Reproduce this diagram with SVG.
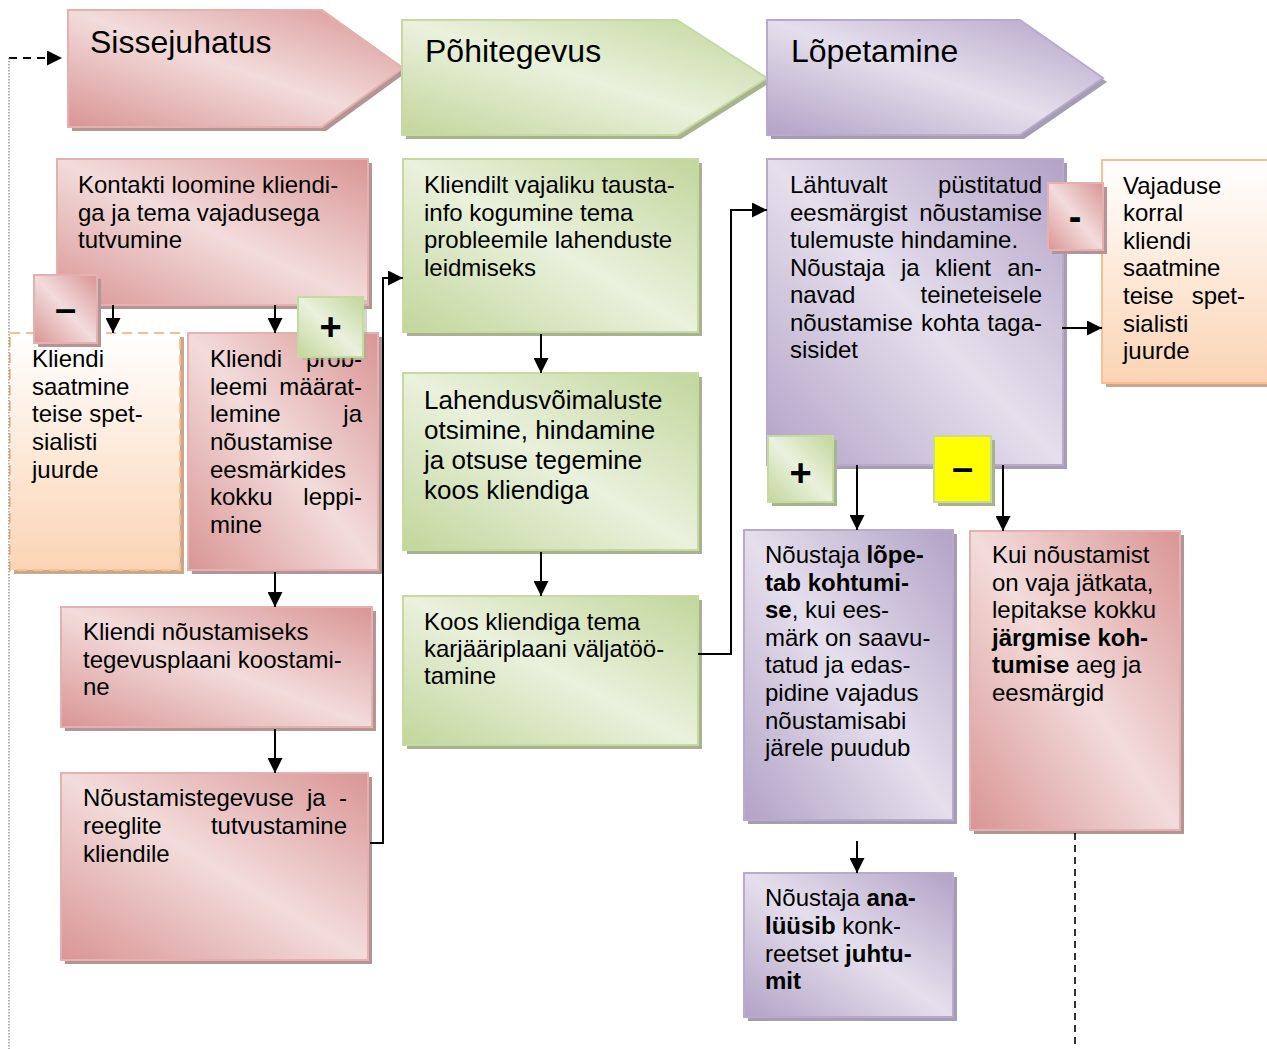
<svg xmlns="http://www.w3.org/2000/svg" width="1267" height="1049" viewBox="0 0 1267 1049">
<style>
.t{font-family:"Liberation Sans",Arial,sans-serif;font-size:24px;fill:#000}
.h{font-size:32px}
.big{font-size:26px}
.b{font-weight:bold}
.e{text-anchor:end}
.bd{font-family:"Liberation Sans",Arial,sans-serif;font-size:38px;font-weight:bold;text-anchor:middle;fill:#000}
.conn{stroke:#000;stroke-width:2;fill:none}
.red{fill:url(#gRed);stroke:#e3b1b0;stroke-width:2}
.grn{fill:url(#gGrn);stroke:#c7d9a3;stroke-width:2}
.pur{fill:url(#gPur);stroke:#b9aacd;stroke-width:2}
.org{fill:url(#gOrg);stroke:#fabf8f;stroke-width:2}
.sr{fill:#b39596}
.sg{fill:#a8b28e}
.sp{fill:#a59db1}
.so{fill:#c9a78c}
</style>
<defs>
<linearGradient id="gRed" x1="0" y1="1" x2="1" y2="0"><stop offset="0" stop-color="#d99594"/><stop offset="0.5" stop-color="#f2dcdb"/><stop offset="1" stop-color="#d99594"/></linearGradient>
<linearGradient id="gGrn" x1="0" y1="1" x2="1" y2="0"><stop offset="0" stop-color="#c2d69b"/><stop offset="0.5" stop-color="#eaf1dd"/><stop offset="1" stop-color="#c2d69b"/></linearGradient>
<linearGradient id="gPur" x1="0" y1="1" x2="1" y2="0"><stop offset="0" stop-color="#b2a2c7"/><stop offset="0.5" stop-color="#e5dfec"/><stop offset="1" stop-color="#b2a2c7"/></linearGradient>
<linearGradient id="gOrg" x1="0" y1="0" x2="0" y2="1"><stop offset="0" stop-color="#ffffff"/><stop offset="1" stop-color="#fbd4b4"/></linearGradient>
<marker id="ah" viewBox="0 0 14 14" refX="14" refY="7" markerWidth="15" markerHeight="15" orient="auto" markerUnits="userSpaceOnUse"><path d="M0,0 L14,7 L0,14 z" fill="#000"/></marker>
</defs>

<g id="hdr-sissejuhatus">
<polygon class="sr" points="72,14 326,14 407,72 326,131 72,131"/>
<polygon class="red" points="68,10 322,10 403,68 322,127 68,127"/>
<text class="t h" x="90" y="53">Sissejuhatus</text>
</g>
<g id="hdr-pohitegevus">
<polygon class="sg" points="406,24 681,24 771,82 681,139 406,139"/>
<polygon class="grn" points="402,20 677,20 767,78 677,135 402,135"/>
<text class="t h" x="425" y="62">Põhitegevus</text>
</g>
<g id="hdr-lopetamine">
<polygon class="sp" points="771,24 1024,24 1107,82 1024,139 771,139"/>
<polygon class="pur" points="767,20 1020,20 1103,78 1020,135 767,135"/>
<text class="t h" x="791" y="62">Lõpetamine</text>
</g>

<g id="n-kontakti">
<rect class="sr" x="61" y="163" width="311" height="146"/>
<rect class="red" x="57" y="159" width="311" height="146"/>
<text class="t" x="78" y="193">Kontakti loomine kliendi-</text>
<text class="t" x="78" y="221">ga ja tema vajadusega</text>
<text class="t" x="78" y="248">tutvumine</text>
</g>

<g id="n-saatmine-l">
<rect class="so" x="14" y="337" width="170" height="237"/>
<rect class="org" x="10" y="333" width="170" height="237" stroke-dasharray="10 6"/>
<text class="t" x="32" y="367">Kliendi</text>
<text class="t" x="32" y="395">saatmine</text>
<text class="t" x="32" y="422">teise spet-</text>
<text class="t" x="32" y="450">sialisti</text>
<text class="t" x="32" y="478">juurde</text>
</g>

<g id="n-probleem">
<rect class="sr" x="192" y="337" width="190" height="237"/>
<rect class="red" x="188" y="333" width="190" height="237"/>
<text class="t" x="210" y="367">Kliendi</text><text class="t e" x="362" y="367">prob-</text>
<text class="t" x="210" y="395">leemi</text><text class="t e" x="362" y="395">määrat-</text>
<text class="t" x="210" y="422">lemine</text><text class="t e" x="362" y="422">ja</text>
<text class="t" x="210" y="450">nõustamise</text>
<text class="t" x="210" y="478">eesmärkides</text>
<text class="t" x="210" y="505">kokku</text><text class="t e" x="362" y="505">leppi-</text>
<text class="t" x="210" y="533">mine</text>
</g>

<g id="n-tegevusplaan">
<rect class="sr" x="65" y="611" width="311" height="120"/>
<rect class="red" x="61" y="607" width="311" height="120"/>
<text class="t" x="83" y="640">Kliendi nõustamiseks</text>
<text class="t" x="83" y="668">tegevusplaani koostami-</text>
<text class="t" x="83" y="695">ne</text>
</g>

<g id="n-reeglid">
<rect class="sr" x="65" y="777" width="307" height="187"/>
<rect class="red" x="61" y="773" width="307" height="187"/>
<text class="t" x="83" y="806">Nõustamistegevuse</text><text class="t" x="307" y="806">ja</text><text class="t e" x="347" y="806">-</text>
<text class="t" x="83" y="834">reeglite</text><text class="t e" x="347" y="834">tutvustamine</text>
<text class="t" x="83" y="862">kliendile</text>
</g>

<g id="n-taustainfo">
<rect class="sg" x="407" y="163" width="295" height="173"/>
<rect class="grn" x="403" y="159" width="295" height="173"/>
<text class="t" x="424" y="193">Kliendilt vajaliku tausta-</text>
<text class="t" x="424" y="221">info kogumine tema</text>
<text class="t" x="424" y="248">probleemile lahenduste</text>
<text class="t" x="424" y="276">leidmiseks</text>
</g>

<g id="n-lahendus">
<rect class="sg" x="407" y="377" width="295" height="177"/>
<rect class="grn" x="403" y="373" width="295" height="177"/>
<text class="t big" x="424" y="409">Lahendusvõimaluste</text>
<text class="t big" x="424" y="439">otsimine, hindamine</text>
<text class="t big" x="424" y="469">ja otsuse tegemine</text>
<text class="t big" x="424" y="499">koos kliendiga</text>
</g>

<g id="n-karjaar">
<rect class="sg" x="407" y="600" width="295" height="149"/>
<rect class="grn" x="403" y="596" width="295" height="149"/>
<text class="t" x="424" y="630">Koos kliendiga tema</text>
<text class="t" x="424" y="657">karjääriplaani väljatöö-</text>
<text class="t" x="424" y="684">tamine</text>
</g>

<g id="n-hindamine">
<rect class="sp" x="771" y="163" width="296" height="306"/>
<rect class="pur" x="767" y="159" width="296" height="306"/>
<text class="t" x="790" y="193">Lähtuvalt</text><text class="t e" x="1042" y="193">püstitatud</text>
<text class="t" x="790" y="221">eesmärgist</text><text class="t e" x="1042" y="221">nõustamise</text>
<text class="t" x="790" y="248">tulemuste hindamine.</text>
<text class="t" x="790" y="276">Nõustaja</text><text class="t" x="901" y="276">ja</text><text class="t" x="935" y="276">klient</text><text class="t e" x="1042" y="276">an-</text>
<text class="t" x="790" y="303">navad</text><text class="t e" x="1042" y="303">teineteisele</text>
<text class="t" x="790" y="331">nõustamise</text><text class="t" x="921" y="331">kohta</text><text class="t e" x="1042" y="331">taga-</text>
<text class="t" x="790" y="358">sisidet</text>
</g>

<g id="n-saatmine-r">
<rect class="so" x="1106" y="164" width="175" height="223"/>
<rect class="org" x="1102" y="160" width="175" height="223"/>
<text class="t" x="1123" y="194">Vajaduse</text>
<text class="t" x="1123" y="221">korral</text>
<text class="t" x="1123" y="249">kliendi</text>
<text class="t" x="1123" y="276">saatmine</text>
<text class="t" x="1123" y="304">teise</text><text class="t e" x="1245" y="304">spet-</text>
<text class="t" x="1123" y="332">sialisti</text>
<text class="t" x="1123" y="359">juurde</text>
</g>

<g id="n-lopetab">
<rect class="sp" x="748" y="534" width="209" height="290"/>
<rect class="pur" x="744" y="530" width="209" height="290"/>
<text class="t" x="765" y="563">Nõustaja <tspan class="b">lõpe-</tspan></text>
<text class="t b" x="765" y="591">tab kohtumi-</text>
<text class="t" x="765" y="618"><tspan class="b">se</tspan>, kui ees-</text>
<text class="t" x="765" y="646">märk on saavu-</text>
<text class="t" x="765" y="673">tatud ja edas-</text>
<text class="t" x="765" y="701">pidine vajadus</text>
<text class="t" x="765" y="729">nõustamisabi</text>
<text class="t" x="765" y="756">järele puudub</text>
</g>

<g id="n-jatkamine">
<rect class="sr" x="974" y="535" width="210" height="299"/>
<rect class="red" x="970" y="531" width="210" height="299"/>
<text class="t" x="992" y="563">Kui nõustamist</text>
<text class="t" x="992" y="591">on vaja jätkata,</text>
<text class="t" x="992" y="618">lepitakse kokku</text>
<text class="t b" x="992" y="646">järgmise koh-</text>
<text class="t" x="992" y="673"><tspan class="b">tumise</tspan> aeg ja</text>
<text class="t" x="992" y="701">eesmärgid</text>
</g>

<g id="n-analuus">
<rect class="sp" x="748" y="877" width="209" height="144"/>
<rect class="pur" x="744" y="873" width="209" height="144"/>
<text class="t" x="765" y="906">Nõustaja <tspan class="b">ana-</tspan></text>
<text class="t" x="765" y="934"><tspan class="b">lüüsib</tspan> konk-</text>
<text class="t" x="765" y="962">reetset <tspan class="b">juhtu-</tspan></text>
<text class="t b" x="765" y="989">mit</text>
</g>

<g id="connectors">
<path class="conn" d="M9,58 H62" stroke-dasharray="8 6" marker-end="url(#ah)"/>
<path d="M9,58 V1049" stroke="#7f7f7f" stroke-width="1.2" stroke-dasharray="1.5 1.5" fill="none"/>
<path class="conn" d="M113,305 V333" marker-end="url(#ah)"/>
<path class="conn" d="M275,305 V333" marker-end="url(#ah)"/>
<path class="conn" d="M275,572 V607" marker-end="url(#ah)"/>
<path class="conn" d="M275,729 V773" marker-end="url(#ah)"/>
<path class="conn" d="M370,843 H383 V278 H403" marker-end="url(#ah)"/>
<path class="conn" d="M541,334 V373" marker-end="url(#ah)"/>
<path class="conn" d="M541,552 V596" marker-end="url(#ah)"/>
<path class="conn" d="M698,654 H731 V210 H767" marker-end="url(#ah)"/>
<path class="conn" d="M1062,328 H1102" marker-end="url(#ah)"/>
<path class="conn" d="M857,465 V530" marker-end="url(#ah)"/>
<path class="conn" d="M1003,465 V531" marker-end="url(#ah)"/>
<path class="conn" d="M857,841 V873" marker-end="url(#ah)"/>
<path d="M1075,833 V1049" stroke="#000" stroke-width="1.6" stroke-dasharray="7 5" fill="none"/>
</g>

<g id="badge-minus-left">
<rect class="sr" x="38" y="279" width="63" height="68"/>
<rect class="red" x="34" y="275" width="63" height="68"/>
<text class="bd" x="65.5" y="322">–</text>
</g>
<g id="badge-plus-left">
<rect class="sg" x="302" y="300" width="65" height="60" opacity="0.5"/>
<rect class="grn" x="298" y="297" width="65" height="60"/>
<text class="bd" x="330.5" y="340">+</text>
</g>
<g id="badge-minus-right">
<rect class="sr" x="1052" y="187" width="55" height="67"/>
<rect class="red" x="1048" y="183" width="55" height="67"/>
<text class="bd" x="1075" y="230">-</text>
</g>
<g id="badge-plus-bottom">
<rect class="sg" x="772" y="440" width="65" height="66"/>
<rect class="grn" x="768" y="436" width="65" height="66"/>
<text class="bd" x="800.5" y="486">+</text>
</g>
<g id="badge-minus-yellow">
<rect class="sg" x="938" y="440" width="57" height="66"/>
<rect x="934" y="436" width="57" height="66" fill="#ffff00" stroke="#c7d9a3" stroke-width="2"/>
<text class="bd" x="962.5" y="481">–</text>
</g>
</svg>
